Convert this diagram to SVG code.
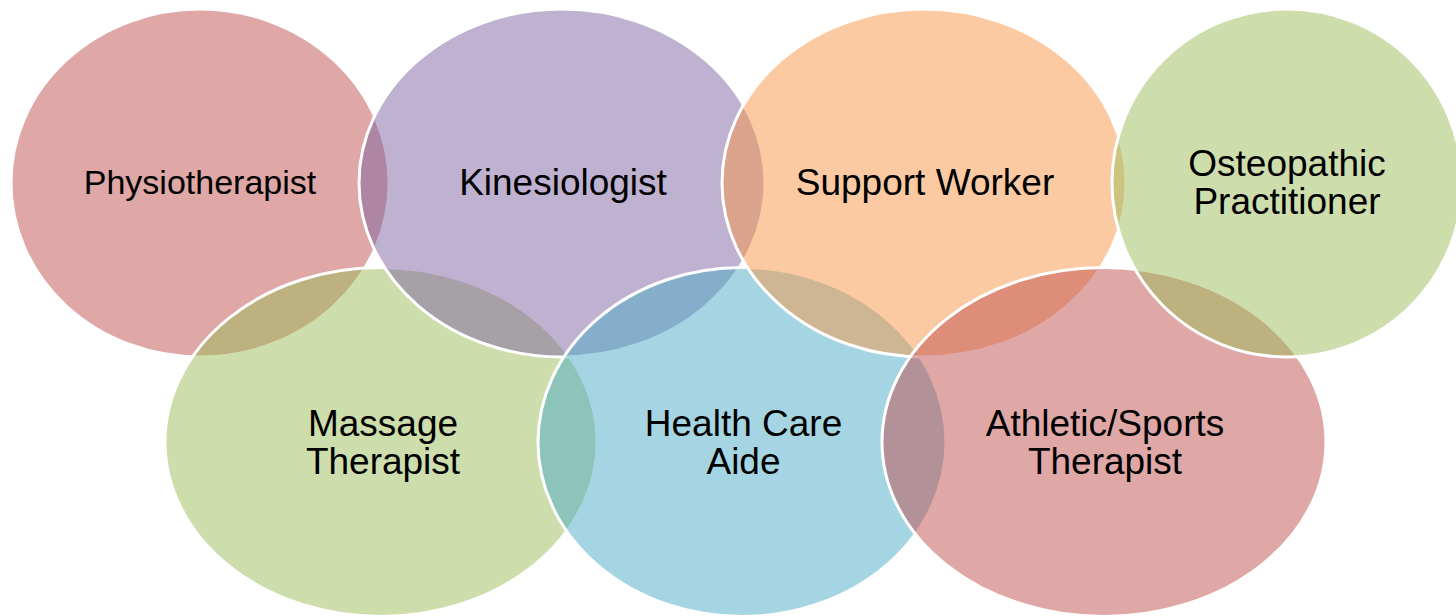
<svg xmlns="http://www.w3.org/2000/svg" width="1456" height="616" viewBox="0 0 1456 616">
<style>
  .c { fill-opacity: 0.5; stroke: #FFFFFF; stroke-width: 3; }
  .red { fill: #C0504D; }
  .purple { fill: #8064A2; }
  .orange { fill: #F79646; }
  .green { fill: #9BBB59; }
  .blue { fill: #4BACC6; }
  .t { font-family: "Liberation Sans", Arial, sans-serif; font-size: 37px; fill: #000000; text-anchor: middle; }
</style>
<rect x="0" y="0" width="1456" height="616" fill="#FFFFFF"/>
<g id="physiotherapist">
  <ellipse class="c red" cx="200" cy="183" rx="189" ry="174"/>
  <text class="t" x="200" y="194" style="font-size:34px">Physiotherapist</text>
</g>
<g id="massage-therapist">
  <ellipse class="c green" cx="381" cy="442" rx="216" ry="174.5"/>
  <text class="t" x="383" y="436">Massage</text>
  <text class="t" x="383" y="474">Therapist</text>
</g>
<g id="kinesiologist">
  <ellipse class="c purple" cx="562" cy="183" rx="203" ry="174"/>
  <text class="t" x="563" y="194.5">Kinesiologist</text>
</g>
<g id="health-care-aide">
  <ellipse class="c blue" cx="742" cy="442" rx="204" ry="174.5"/>
  <text class="t" x="743.5" y="436">Health Care</text>
  <text class="t" x="743.5" y="474">Aide</text>
</g>
<g id="support-worker">
  <ellipse class="c orange" cx="924" cy="183" rx="202" ry="174"/>
  <text class="t" x="925" y="194.5">Support Worker</text>
</g>
<g id="athletic-sports-therapist">
  <ellipse class="c red" cx="1104" cy="442" rx="222" ry="174.5"/>
  <text class="t" x="1105" y="436">Athletic/Sports</text>
  <text class="t" x="1105" y="474">Therapist</text>
</g>
<g id="osteopathic-practitioner">
  <ellipse class="c green" cx="1287" cy="183" rx="175" ry="174"/>
  <text class="t" x="1287" y="176">Osteopathic</text>
  <text class="t" x="1287" y="213.5">Practitioner</text>
</g>
<g id="connectors"></g>
</svg>
